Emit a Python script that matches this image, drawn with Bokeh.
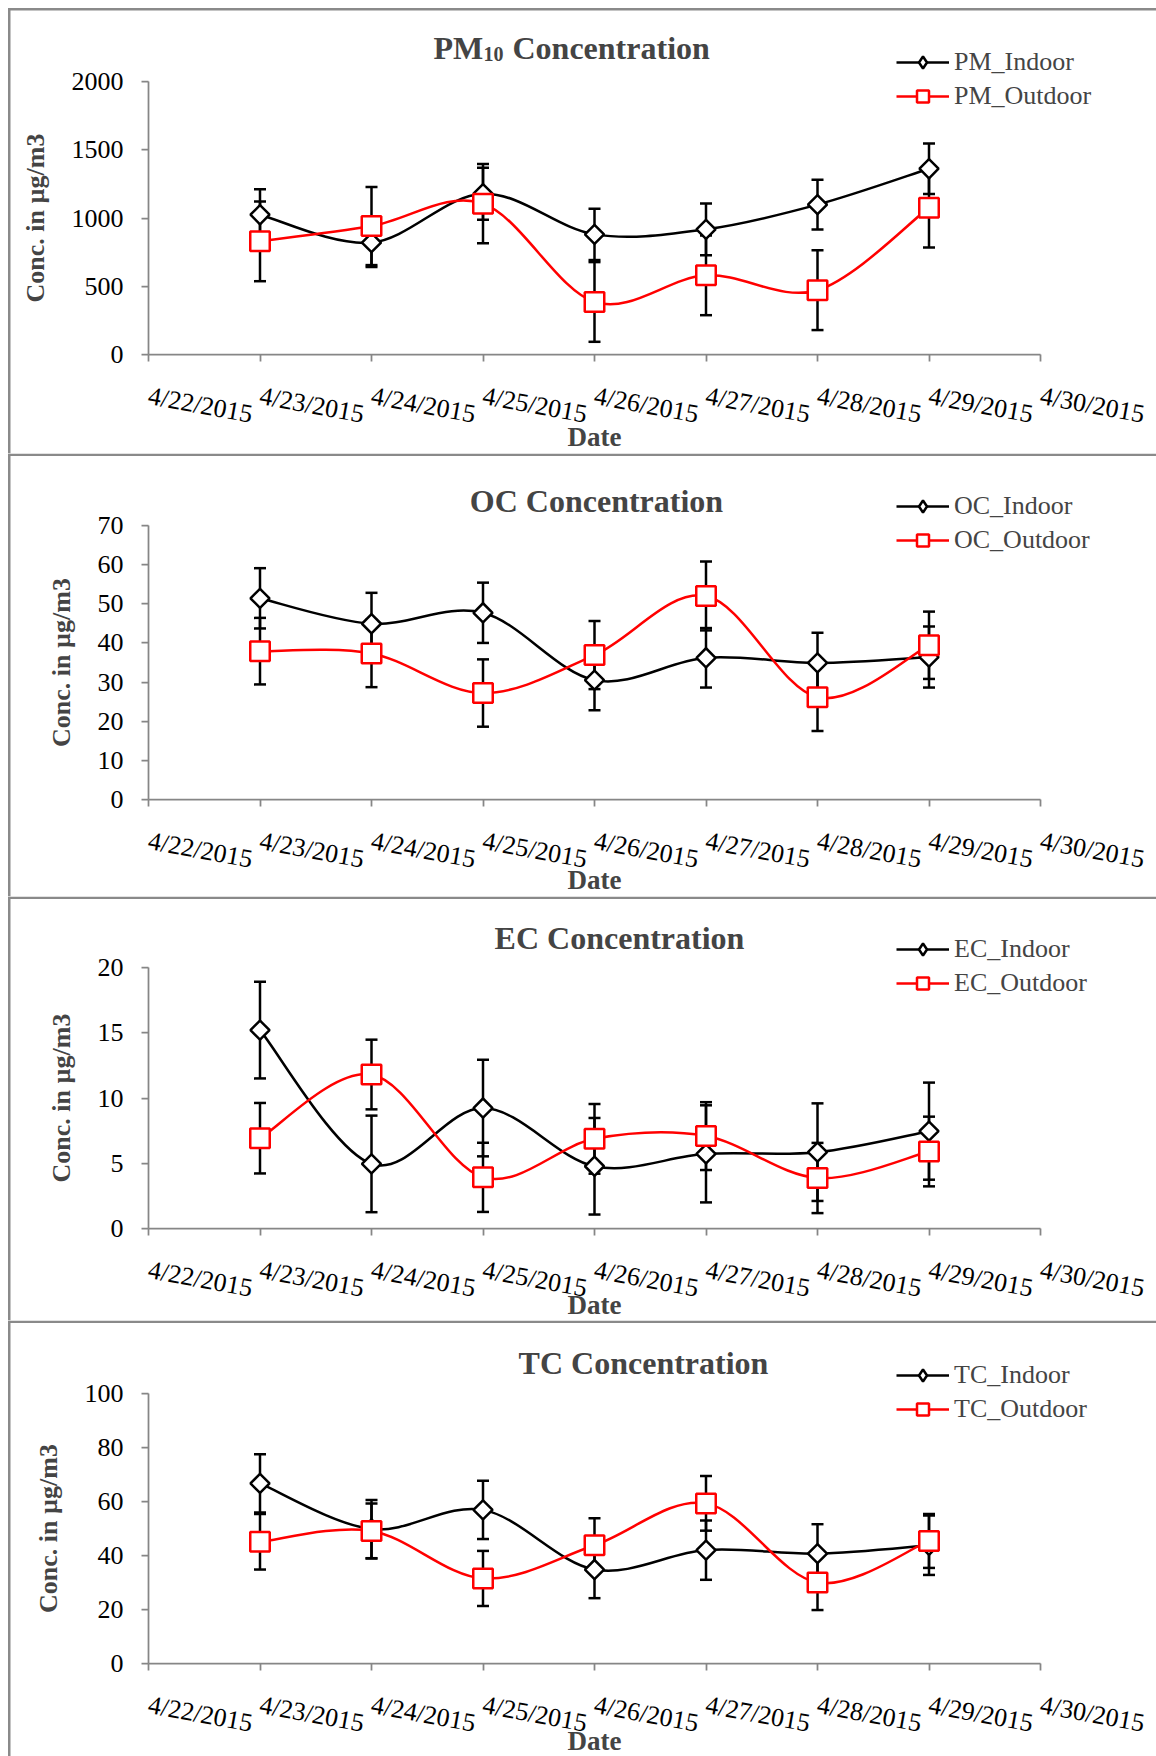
import numpy as np
from bokeh.plotting import figure
from bokeh.models import (Range1d, FixedTicker, Label, Legend, LegendItem,
                          BoxAnnotation, ColumnDataSource)
from bokeh.layouts import column
from bokeh.embed import file_html
from bokeh.resources import INLINE

# ---------------- data ----------------
days = [23, 24, 25, 26, 27, 28, 29]
tick_days = [22, 23, 24, 25, 26, 27, 28, 29, 30]
tick_labels = ["4/22/2015", "4/23/2015", "4/24/2015", "4/25/2015", "4/26/2015",
               "4/27/2015", "4/28/2015", "4/29/2015", "4/30/2015"]

pm_indoor = [1024, 820, 1178, 880, 917, 1098, 1361]
pm_indoor_err = [186, 179, 190, 188, 190, 183, 185]
pm_outdoor = [829, 941, 1105, 385, 580, 471, 1076]
pm_outdoor_err = [292, 286, 290, 292, 292, 292, 292]

oc_indoor = [51.4, 44.9, 47.7, 30.5, 36.2, 34.9, 36.4]
oc_indoor_err = [7.7, 7.9, 7.7, 7.7, 7.6, 7.7, 7.8]
oc_outdoor = [37.9, 37.3, 27.2, 36.9, 52.0, 26.1, 39.4]
oc_outdoor_err = [8.5, 8.6, 8.6, 8.7, 8.8, 8.6, 8.6]

ec_indoor = [15.2, 4.95, 9.23, 4.77, 5.72, 5.85, 7.46]
ec_indoor_err = [3.7, 3.7, 3.7, 3.7, 3.72, 3.74, 3.72]
ec_outdoor = [6.92, 11.8, 3.92, 6.87, 7.08, 3.87, 5.9]
ec_outdoor_err = [2.7, 2.67, 2.65, 2.67, 2.6, 2.69, 2.67]

tc_indoor = [66.7, 49.8, 56.9, 34.8, 42.0, 40.7, 43.8]
tc_indoor_err = [10.8, 10.8, 10.8, 10.6, 11.0, 10.9, 11.0]
tc_outdoor = [45.1, 49.1, 31.5, 43.8, 59.3, 30.0, 45.4]
tc_outdoor_err = [10.3, 10.2, 10.2, 10.0, 10.1, 10.2, 10.0]

FONT = "Liberation Serif"
GRAY = "#8a8a8a"
AXIS_GRAY = "#868686"
W = 1156
AX_L = 148      # pixel of 4/22 (y axis)
AX_R = 1040     # pixel of 4/30
PX_DAY = (AX_R - AX_L) / 8.0


def smooth_source(x, y):
    x = np.asarray(x, float)
    y = np.asarray(y, float)
    n = len(x)
    xp = np.r_[x[0], x, x[-1]]
    yp = np.r_[y[0], y, y[-1]]
    return ColumnDataSource(dict(
        x0=x[:-1], y0=y[:-1], x1=x[1:], y1=y[1:],
        cx0=xp[1:n] + (xp[2:n + 1] - xp[0:n - 1]) / 6.0,
        cy0=yp[1:n] + (yp[2:n + 1] - yp[0:n - 1]) / 6.0,
        cx1=xp[2:n + 1] - (xp[3:n + 2] - xp[1:n]) / 6.0,
        cy1=yp[2:n + 1] - (yp[3:n + 2] - yp[1:n]) / 6.0,
    ))


def make_panel(H, T, FH, ymax, ystep, indoor, indoor_err, outdoor, outdoor_err,
               names, title, title_cx, title_cy, legend_c1, date_cy, top_border):
    fb = T + FH
    ppu = FH / ymax
    xr = Range1d(tick_days[0] - AX_L / PX_DAY, tick_days[0] + (W - AX_L) / PX_DAY)
    yr = Range1d(-(H - fb) / ppu, ymax + T / ppu)
    p = figure(width=W, height=H, output_backend="svg", toolbar_location=None,
               x_range=xr, y_range=yr, min_border=0, min_border_left=0,
               min_border_right=0, min_border_top=0, min_border_bottom=0,
               title=None)
    p.outline_line_color = None
    p.xgrid.visible = False
    p.ygrid.visible = False

    # axes
    for ax in (p.xaxis[0], p.yaxis[0]):
        ax.axis_line_color = AXIS_GRAY
        ax.axis_line_width = 1.75
        ax.major_tick_line_color = AXIS_GRAY
        ax.major_tick_line_width = 1.75
        ax.major_tick_in = 0
        ax.major_tick_out = 7
        ax.minor_tick_line_color = None
        ax.major_label_text_font = FONT
        ax.major_label_text_font_size = "26px"
        ax.major_label_text_color = "black"
    p.xaxis.fixed_location = 0
    p.xaxis.bounds = (tick_days[0], tick_days[-1])
    p.yaxis.fixed_location = tick_days[0]
    p.yaxis.bounds = (0, ymax)
    p.xaxis.ticker = FixedTicker(ticks=tick_days)
    p.xaxis.major_label_overrides = {d: l for d, l in zip(tick_days, tick_labels)}
    p.xaxis.major_label_orientation = -0.18
    p.xaxis.major_label_standoff = 34
    p.yaxis.ticker = FixedTicker(ticks=list(np.arange(0, ymax + ystep / 2, ystep)))
    p.yaxis.major_label_standoff = 18
    p.yaxis.axis_label = "Conc. in µg/m3"
    p.yaxis.axis_label_text_font = FONT
    p.yaxis.axis_label_text_font_size = "26px"
    p.yaxis.axis_label_text_font_style = "bold"
    p.yaxis.axis_label_standoff = 19

    # error bars
    for vals, errs in ((indoor, indoor_err), (outdoor, outdoor_err)):
        v = np.asarray(vals, float)
        e = np.asarray(errs, float)
        p.segment(x0=days, y0=v - e, x1=days, y1=v + e, line_color="black",
                  line_width=2.5)
        p.scatter(x=days + days, y=list(v - e) + list(v + e), marker="dash",
                  size=12, line_color="black", line_width=2.5)

    # smoothed lines
    l_in = p.bezier(x0="x0", y0="y0", x1="x1", y1="y1", cx0="cx0", cy0="cy0",
                    cx1="cx1", cy1="cy1", source=smooth_source(days, indoor),
                    line_color="black", line_width=2.5)
    l_out = p.bezier(x0="x0", y0="y0", x1="x1", y1="y1", cx0="cx0", cy0="cy0",
                     cx1="cx1", cy1="cy1", source=smooth_source(days, outdoor),
                     line_color="red", line_width=2.5)
    # markers
    m_in = p.scatter(x=days, y=indoor, marker="square", angle=np.pi / 4, size=13.5,
                     fill_color="white", line_color="black", line_width=2.5)
    m_out = p.scatter(x=days, y=outdoor, marker="square", size=19.5,
                      fill_color="white", line_color="red", line_width=2.5)
    # diamond used for the legend swatch only
    leg_in = p.scatter(x=days, y=indoor, marker="diamond", size=12,
                       fill_color="white", line_color="black", line_width=2.5,
                       visible=False)

    # legend (location relative to canvas bottom-left, frame == canvas)
    legend = Legend(items=[LegendItem(label=names[0], renderers=[l_in, leg_in]),
                           LegendItem(label=names[1], renderers=[l_out, m_out])],
                    location=(896, H - legend_c1 - 49),
                    glyph_width=53, glyph_height=30, spacing=4, padding=0, margin=0,
                    label_standoff=5, label_text_font=FONT,
                    label_text_font_size="26px", border_line_color=None,
                    background_fill_alpha=0)
    p.add_layout(legend)

    # title
    base_y = H - (title_cy - 1.5)
    if isinstance(title, list):
        x = title_cx
        for txt, size, dy, w in title:
            p.add_layout(Label(x=x, y=base_y - dy, x_units="screen", y_units="screen",
                               text=txt, text_font=FONT, text_font_size=f"{size}px",
                               text_font_style="bold", text_align="left",
                               text_baseline="alphabetic"))
            x += w
    else:
        p.add_layout(Label(x=title_cx, y=base_y, x_units="screen", y_units="screen",
                           text=title, text_font=FONT, text_font_size="32px",
                           text_font_style="bold", text_align="center",
                           text_baseline="alphabetic"))
    # Date label
    p.add_layout(Label(x=(AX_L + AX_R) / 2, y=H - date_cy, x_units="screen",
                       y_units="screen", text="Date", text_font=FONT,
                       text_font_size="27px", text_font_style="bold",
                       text_align="center", text_baseline="middle"))

    # panel border lines
    p.add_layout(BoxAnnotation(left=7.5, right=W, top=top_border, bottom=top_border + 2.5,
                               left_units="canvas", right_units="canvas",
                               top_units="canvas", bottom_units="canvas",
                               fill_color=GRAY, fill_alpha=1, line_alpha=0))
    p.add_layout(BoxAnnotation(left=7.5, right=10, top=top_border, bottom=H,
                               left_units="canvas", right_units="canvas",
                               top_units="canvas", bottom_units="canvas",
                               fill_color=GRAY, fill_alpha=1, line_alpha=0))
    return p


pm_title = [("PM", 32, 0, 50), ("10", 20, 6, 29), ("Concentration", 32, 0, 0)]

p1 = make_panel(453, 81, 273, 2000, 500, pm_indoor, pm_indoor_err, pm_outdoor,
                pm_outdoor_err, ["PM_Indoor", "PM_Outdoor"], pm_title, 433, 49.3,
                62, 436, 7.5)
p2 = make_panel(443, 72, 274, 70, 10, oc_indoor, oc_indoor_err, oc_outdoor,
                oc_outdoor_err, ["OC_Indoor", "OC_Outdoor"], "OC  Concentration", 600,
                48.8, 53, 426, 0)
p3 = make_panel(424, 71, 261, 20, 5, ec_indoor, ec_indoor_err, ec_outdoor,
                ec_outdoor_err, ["EC_Indoor", "EC_Outdoor"], "EC Concentration", 619,
                42.7, 53, 408, 0)
p4 = make_panel(436, 73, 270, 100, 20, tc_indoor, tc_indoor_err, tc_outdoor,
                tc_outdoor_err, ["TC_Indoor", "TC_Outdoor"], "TC Concentration", 643,
                44.4, 54.5, 420, 0)

layout = column(p1, p2, p3, p4, spacing=0)
open("out.html", "w").write(file_html(layout, INLINE))
